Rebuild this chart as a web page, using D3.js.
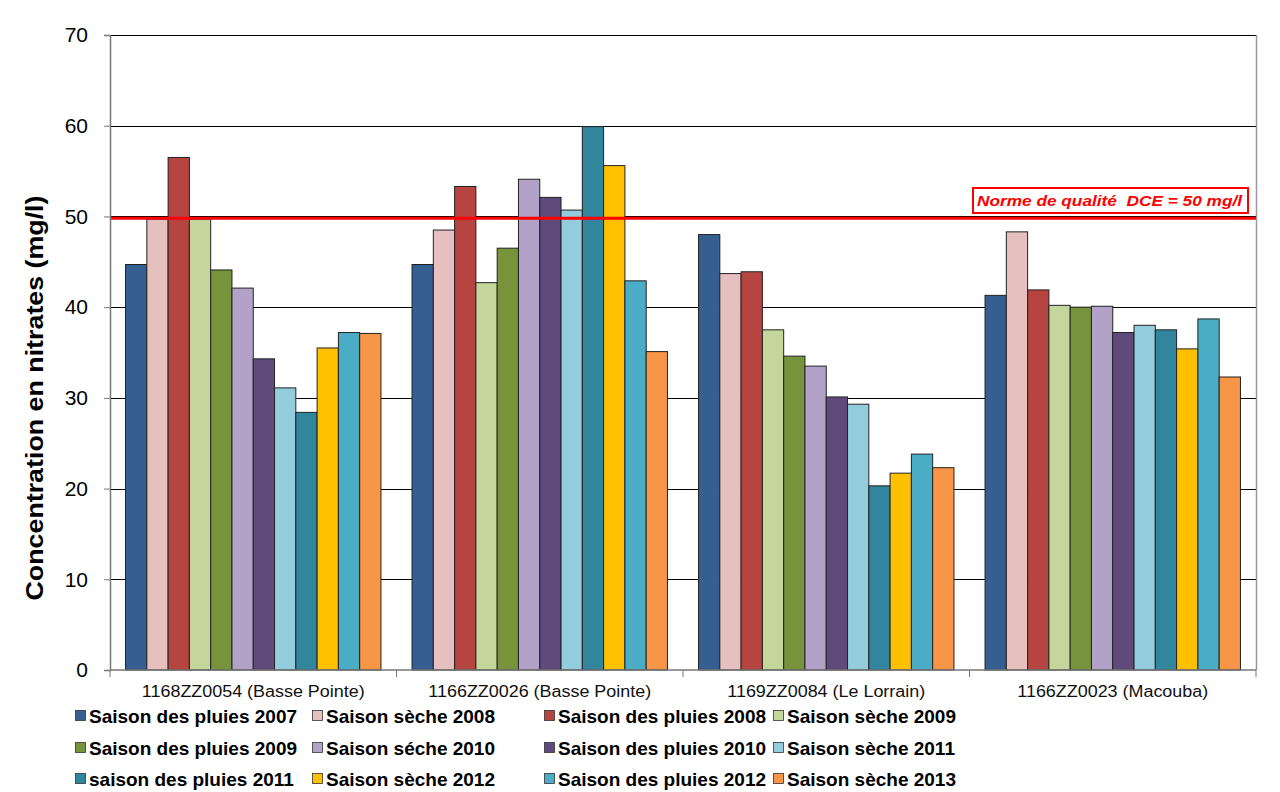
<!DOCTYPE html>
<html><head><meta charset="utf-8">
<script src="https://cdn.jsdelivr.net/npm/d3@7"></script>
<style>body{margin:0;background:#fff;} svg{display:block;font-family:"Liberation Sans",Arial,sans-serif;}</style>
</head><body>
<svg id="chart" width="1280" height="792"></svg>
<script>
const categories = ["1168ZZ0054 (Basse Pointe)", "1166ZZ0026 (Basse Pointe)", "1169ZZ0084 (Le Lorrain)", "1166ZZ0023 (Macouba)"];
const seriesNames = ["Saison des pluies 2007", "Saison sèche 2008", "Saison des pluies 2008", "Saison sèche 2009",
  "Saison des pluies 2009", "Saison séche 2010", "Saison des pluies 2010", "Saison sèche 2011",
  "saison des pluies 2011", "Saison sèche 2012", "Saison des pluies 2012", "Saison sèche 2013"];
const seriesColors = ["#365F91", "#E6BFBF", "#B64542", "#C4D69B", "#77933C", "#B2A2C7", "#5F4A7B", "#93CDDD",
  "#31859C", "#FFC000", "#4BACC6", "#F79646"];
// values[series][category]
const values = [
  [44.7, 44.7, 48.0, 41.3],
  [49.7, 48.5, 43.7, 48.3],
  [56.5, 53.3, 43.9, 41.9],
  [49.7, 42.7, 37.5, 40.2],
  [44.1, 46.5, 34.6, 40.0],
  [42.1, 54.1, 33.5, 40.1],
  [34.3, 52.1, 30.1, 37.2],
  [31.1, 50.7, 29.3, 38.0],
  [28.4, 59.9, 20.3, 37.5],
  [35.5, 55.6, 21.7, 35.4],
  [37.2, 42.9, 23.8, 38.7],
  [37.1, 35.1, 22.3, 32.3]
];
const yTicks = [0, 10, 20, 30, 40, 50, 60, 70];
const normValue = 49.8;
const normLabel = "Norme de qualité  DCE = 50 mg/l";
const yTitle = "Concentration en nitrates (mg/l)";

const svg = d3.select("#chart");
const L = 110, R = 1256, T = 35, B = 670;

const x0 = d3.scaleBand().domain(categories).range([L, R]).paddingInner(0).paddingOuter(0);
const x1 = d3.scaleBand().domain(d3.range(seriesNames.length)).range([0, x0.bandwidth()]).paddingInner(0).paddingOuter(0.73);
const y = d3.scaleLinear().domain([0, 70]).range([B, T]);

// grid lines
svg.append("g").selectAll("line").data(yTicks.filter(d => d > 0)).join("line")
  .attr("x1", L).attr("x2", R).attr("y1", d => Math.round(y(d)) + 0.5).attr("y2", d => Math.round(y(d)) + 0.5)
  .attr("stroke", "#000").attr("stroke-width", 1);

// right border
svg.append("line").attr("x1", R + 0.5).attr("x2", R + 0.5).attr("y1", T).attr("y2", B)
  .attr("stroke", "#999").attr("stroke-width", 1.5);

// bars
const gCat = svg.append("g").selectAll("g").data(categories).join("g")
  .attr("transform", d => `translate(${x0(d)},0)`);
gCat.selectAll("rect").data((c, ci) => values.map((v, si) => ({si, v: v[ci]}))).join("rect")
  .attr("x", d => x1(d.si)).attr("width", x1.bandwidth())
  .attr("y", d => y(d.v)).attr("height", d => y(0) - y(d.v))
  .attr("fill", d => seriesColors[d.si]).attr("stroke", "#222").attr("stroke-width", 1);

// norm line
svg.append("line").attr("x1", L).attr("x2", R).attr("y1", y(normValue)).attr("y2", y(normValue))
  .attr("stroke", "#FF0000").attr("stroke-width", 3);

// norm label
const lblG = svg.append("g");
lblG.append("rect").attr("x", 973).attr("y", 188).attr("width", 275).attr("height", 25)
  .attr("fill", "#fff").attr("stroke", "#FF0000").attr("stroke-width", 2);
lblG.append("text").attr("x", 977).attr("y", 206)
  .attr("fill", "#FF0000").attr("font-size", 14.5).attr("font-weight", "bold").attr("font-style", "italic")
  .attr("textLength", 265).attr("lengthAdjust", "spacingAndGlyphs")
  .style("white-space", "pre").text(normLabel);

// y axis
const yAxis = d3.axisLeft(y).tickValues(yTicks).tickSize(6).tickPadding(16).tickFormat(d3.format("d"));
const ya = svg.append("g").attr("transform", `translate(${L},0)`).call(yAxis);
ya.select(".domain").attr("stroke", "#777").attr("stroke-width", 1.5);
ya.selectAll(".tick line").attr("stroke", "#777");
ya.selectAll("text").attr("font-size", 21).attr("fill", "#000").attr("font-family", "Liberation Sans, Arial, sans-serif");

// x axis
const xa = svg.append("g").attr("transform", `translate(0,${B})`);
xa.append("line").attr("x1", L).attr("x2", R).attr("stroke", "#777").attr("stroke-width", 1.5);
xa.selectAll("line.tk").data(categories.concat(["__end"])).join("line").attr("class", "tk")
  .attr("x1", (d, i) => i < categories.length ? x0(d) + x0.bandwidth() : L)
  .attr("x2", (d, i) => i < categories.length ? x0(d) + x0.bandwidth() : L)
  .attr("y1", 0).attr("y2", 7).attr("stroke", "#777");
xa.selectAll("text").data(categories).join("text")
  .attr("x", d => x0(d) + x0.bandwidth() / 2).attr("y", 27).attr("text-anchor", "middle")
  .attr("font-size", 16).attr("fill", "#111").text(d => d)
  .each(function() { const w = this.getComputedTextLength(); d3.select(this).attr("textLength", w * 1.12).attr("lengthAdjust", "spacingAndGlyphs"); });

// y title
svg.append("text").attr("transform", `translate(43,398) rotate(-90)`)
  .attr("text-anchor", "middle").attr("font-size", 24).attr("font-weight", "bold")
  .attr("textLength", 405).attr("lengthAdjust", "spacingAndGlyphs").text(yTitle);

// legend
const legX = [75, 312, 544, 773];
const legY = [723, 755, 786];
const leg = svg.append("g").selectAll("g").data(seriesNames).join("g")
  .attr("transform", (d, i) => `translate(${legX[i % 4]},${legY[Math.floor(i / 4)]})`);
leg.append("rect").attr("x", 0.5).attr("y", -12.5).attr("width", 10).attr("height", 10)
  .attr("fill", (d, i) => seriesColors[i]).attr("stroke", "#333").attr("stroke-width", 0.8);
leg.append("text").attr("x", 14).attr("y", 0).attr("font-size", 19).attr("font-weight", "bold")
  .attr("fill", "#000").text(d => d);
</script>
</body></html>
